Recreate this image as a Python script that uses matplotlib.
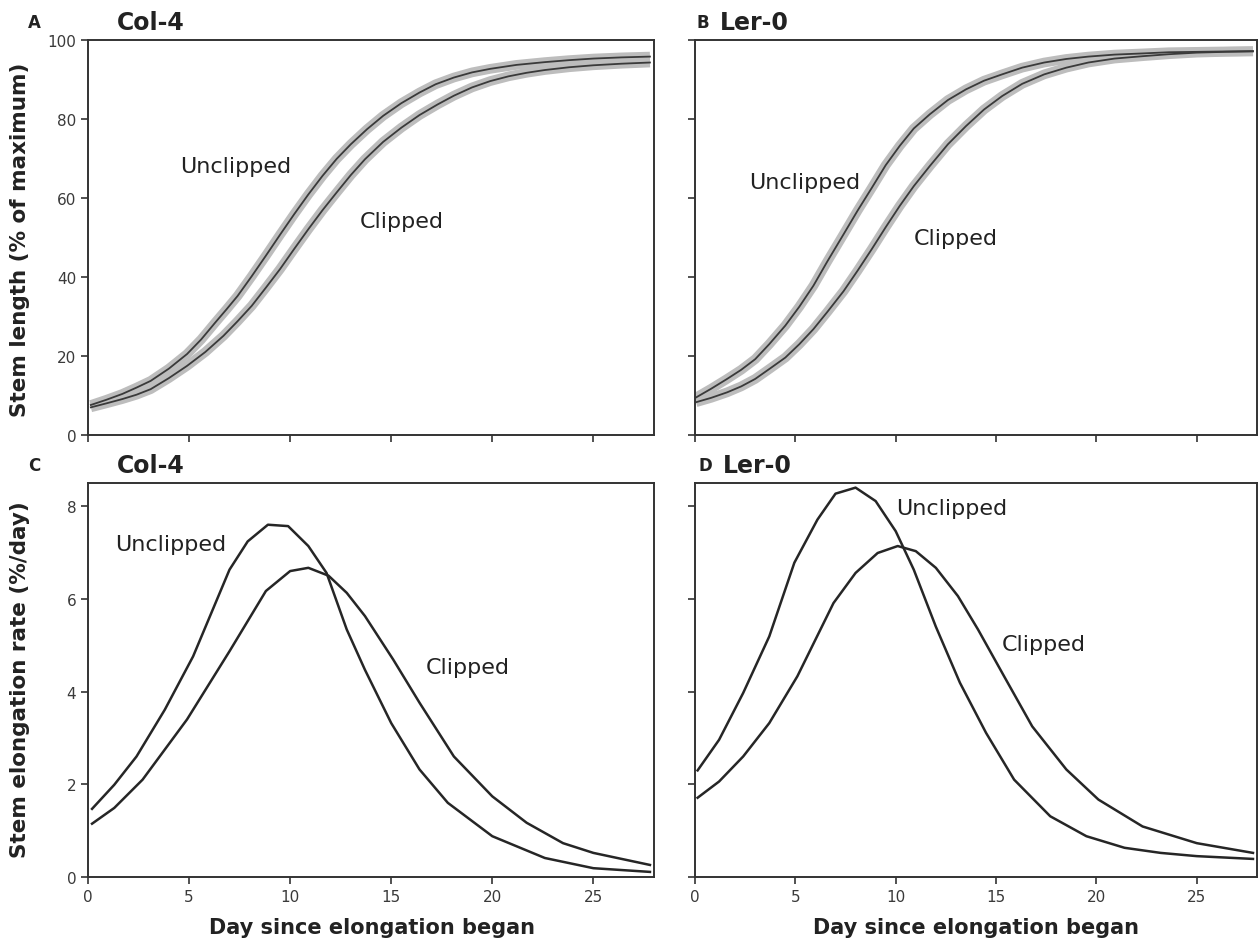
import numpy as np
import matplotlib.pyplot as plt

plt.rcParams['font.family'] = 'DejaVu Sans'

# panel A: Col-4 stem length (% of maximum)
a_day_u = [0.14, 0.9, 1.7, 2.4, 3.1, 4.0, 4.9, 5.6, 6.3, 6.85, 7.4, 8.1, 8.8, 9.5, 10.2, 10.9, 11.6,
           12.3, 13.0, 13.8, 14.6, 15.5, 16.4, 17.2, 18.1, 19.0, 19.9, 21.2, 22.6, 23.8, 25.0, 26.4, 27.8]
a_unclipped = [7.6, 8.9, 10.4, 12.0, 13.7, 16.8, 20.5, 24.2, 28.5, 31.8, 35.2, 40.2, 45.4, 50.7, 55.9, 60.9, 65.6,
               69.9, 73.6, 77.4, 80.8, 84.0, 86.7, 88.8, 90.5, 91.8, 92.7, 93.7, 94.4, 94.9, 95.3, 95.6, 95.8]
a_day_c = [0.14, 0.9, 1.7, 2.4, 3.1, 4.0, 4.9, 5.8, 6.7, 7.4, 8.1, 8.8, 9.5, 10.2, 10.9, 11.6, 12.3, 13.0,
           13.7, 14.6, 15.5, 16.4, 17.3, 18.1, 19.0, 19.9, 20.8, 21.7, 22.6, 23.8, 25.0, 26.4, 27.8]
a_clipped = [7.0, 8.0, 9.1, 10.2, 11.6, 14.4, 17.5, 21.0, 25.1, 28.8, 32.7, 37.3, 42.0, 47.1, 52.1, 56.9, 61.4, 65.8,
             69.8, 74.2, 77.8, 81.0, 83.7, 85.9, 88.0, 89.6, 90.8, 91.7, 92.4, 93.1, 93.6, 94.0, 94.3]

# panel B: Ler-0 stem length (% of maximum)
b_day = [0.05, 0.8, 1.6, 2.3, 3.0, 3.7, 4.5, 5.2, 5.9, 6.6, 7.4, 8.1, 8.8, 9.5, 10.2, 10.9, 11.7,
         12.6, 13.5, 14.4, 15.3, 16.3, 17.4, 18.5, 19.6, 20.9, 22.3, 23.6, 25.0, 26.4, 27.8]
b_unclipped = [9.5, 11.7, 14.2, 16.5, 19.2, 23.0, 27.7, 32.5, 37.8, 44.0, 50.8, 56.8, 62.5, 68.3, 73.2, 77.6, 81.2,
               84.8, 87.5, 89.7, 91.3, 93.0, 94.3, 95.2, 95.8, 96.3, 96.6, 96.9, 97.0, 97.1, 97.2]
b_clipped = [8.3, 9.4, 10.8, 12.3, 14.2, 16.7, 19.6, 23.0, 26.8, 31.2, 36.4, 41.6, 47.0, 52.6, 58.0, 63.0, 68.1,
             73.6, 78.2, 82.4, 85.8, 88.9, 91.3, 93.0, 94.3, 95.3, 95.9, 96.4, 96.8, 97.0, 97.1]

# panel C: Col-4 elongation rate (%/day)
c_day_u = [0.2, 1.3, 2.4, 3.8, 5.2, 7.0, 7.9, 8.9, 9.9, 10.9, 11.8, 12.8, 13.7, 15.0, 16.4, 17.8, 20.0, 22.6, 25.0, 27.8]
c_unclipped = [1.47, 1.99, 2.60, 3.61, 4.76, 6.63, 7.24, 7.60, 7.57, 7.14, 6.56, 5.34, 4.47, 3.32, 2.32, 1.60, 0.88, 0.41, 0.19, 0.11]
c_day_c = [0.2, 1.3, 2.7, 4.9, 7.0, 8.8, 10.0, 10.9, 11.9, 12.8, 13.7, 15.1, 16.4, 18.1, 20.0, 21.7, 23.5, 25.0, 27.8]
c_clipped = [1.15, 1.49, 2.10, 3.40, 4.87, 6.17, 6.60, 6.67, 6.50, 6.13, 5.63, 4.69, 3.76, 2.60, 1.74, 1.17, 0.73, 0.52, 0.26]

# panel D: Ler-0 elongation rate (%/day)
d_day_u = [0.13, 1.2, 2.4, 3.7, 4.95, 6.1, 7.0, 8.0, 9.0, 10.0, 10.9, 12.0, 13.2, 14.5, 15.9, 17.7, 19.5, 21.4, 23.2, 25.0, 27.8]
d_unclipped = [2.30, 2.96, 3.97, 5.19, 6.78, 7.71, 8.27, 8.40, 8.11, 7.46, 6.63, 5.40, 4.19, 3.11, 2.10, 1.31, 0.88, 0.63, 0.52, 0.45, 0.39]
d_day_c = [0.13, 1.2, 2.4, 3.7, 5.1, 6.9, 8.0, 9.1, 10.1, 11.0, 12.0, 13.1, 14.1, 15.4, 16.8, 18.5, 20.1, 22.3, 25.0, 27.8]
d_clipped = [1.71, 2.06, 2.60, 3.32, 4.33, 5.91, 6.56, 6.99, 7.14, 7.03, 6.67, 6.06, 5.34, 4.33, 3.25, 2.32, 1.67, 1.09, 0.73, 0.52]

fig = plt.figure(figsize=(12.59, 9.45), dpi=100)
W, H = 1259, 945


def make_ax(l, r, t, b):
    return fig.add_axes([l / W, 1 - b / H, (r - l) / W, (b - t) / H])


axA = make_ax(88, 654, 41, 436)
axB = make_ax(695, 1257, 41, 436)
axC = make_ax(88, 654, 484, 878)
axD = make_ax(695, 1257, 484, 878)

line_col = '#262626'
band_col = '#bdbdbd'

for ax, xu, yu, xc, yc in [(axA, a_day_u, a_unclipped, a_day_c, a_clipped),
                            (axB, b_day, b_unclipped, b_day, b_clipped)]:
    for x, y in [(xu, yu), (xc, yc)]:
        ax.plot(x, y, color=band_col, lw=7, solid_capstyle='butt', solid_joinstyle='round')
    for x, y in [(xu, yu), (xc, yc)]:
        ax.plot(x, y, color='#3a3a3a', lw=1.3, solid_joinstyle='round')
    ax.set_ylim(0, 100)
    ax.set_yticks([0, 20, 40, 60, 80, 100])

for ax, xu, yu, xc, yc in [(axC, c_day_u, c_unclipped, c_day_c, c_clipped),
                            (axD, d_day_u, d_unclipped, d_day_c, d_clipped)]:
    ax.plot(xu, yu, color=line_col, lw=1.8, solid_joinstyle='round')
    ax.plot(xc, yc, color=line_col, lw=1.8, solid_joinstyle='round')
    ax.set_ylim(0, 8.5)
    ax.set_yticks([0, 2, 4, 6, 8])

for ax in [axA, axB, axC, axD]:
    ax.set_xlim(0, 28)
    ax.set_xticks([0, 5, 10, 15, 20, 25])
    for s in ax.spines.values():
        s.set_linewidth(1.4)
        s.set_color('#333333')
    ax.tick_params(direction='out', length=5, width=1.2, color='#333333',
                   labelsize=11, labelcolor='#3a3a3a')

axA.tick_params(labelbottom=False)
axB.tick_params(labelbottom=False, labelleft=False)
axD.tick_params(labelleft=False)

# curve labels
lab = dict(fontsize=16, color='#222222', ha='center', va='center')
axA.text(7.3, 68.1, 'Unclipped', **lab)
axA.text(15.5, 54.2, 'Clipped', **lab)
axB.text(5.45, 64.1, 'Unclipped', **lab)
axB.text(13.0, 49.9, 'Clipped', **lab)
axC.text(4.07, 7.18, 'Unclipped', **lab)
axC.text(18.8, 4.53, 'Clipped', **lab)
axD.text(12.8, 7.97, 'Unclipped', **lab)
axD.text(17.4, 5.02, 'Clipped', **lab)

# panel letters and titles
for letter, lx, tx, ty, title in [('A', 28, 117, 23, 'Col-4'), ('B', 697, 720, 23, 'Ler-0'),
                                   ('C', 28, 117, 466, 'Col-4'), ('D', 698, 723, 466, 'Ler-0')]:
    fig.text(lx / W, 1 - ty / H, letter, fontsize=12, fontweight='bold', color='#222222',
             ha='left', va='center')
    fig.text(tx / W, 1 - ty / H, title, fontsize=17, fontweight='bold', color='#222222',
             ha='left', va='center')

fig.text(20 / W, 1 - 240 / H, 'Stem length (% of maximum)', rotation=90, fontsize=15.5,
         fontweight='bold', color='#222222', ha='center', va='center')
fig.text(20 / W, 1 - 680 / H, 'Stem elongation rate (%/day)', rotation=90, fontsize=15.5,
         fontweight='bold', color='#222222', ha='center', va='center')
fig.text(372 / W, 1 - 928 / H, 'Day since elongation began', fontsize=15,
         fontweight='bold', color='#222222', ha='center', va='center')
fig.text(976 / W, 1 - 928 / H, 'Day since elongation began', fontsize=15,
         fontweight='bold', color='#222222', ha='center', va='center')

fig.savefig('out.png', dpi=100)
